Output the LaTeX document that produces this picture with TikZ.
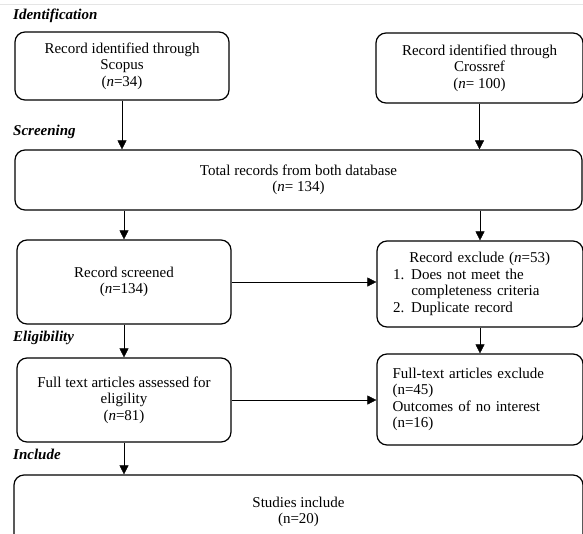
\documentclass[tikz,border=0pt]{standalone}
\usepackage{fontspec}
\setmainfont{Liberation Serif}
\usetikzlibrary{positioning, arrows.meta}

\tikzset{
  box/.style={draw, line width=1.2pt, rounded corners=10pt, align=center,
    inner sep=0pt, font=\fontsize{15}{16.5}\selectfont},
  stage/.style={anchor=base west, inner sep=0pt,
    font=\fontsize{15}{16.5}\selectfont\bfseries\itshape},
}

\begin{document}
\begin{tikzpicture}[x=1pt, y=-1pt, >={Triangle[length=9pt, width=9pt]}]
    \clip (0,0) rectangle (583,533);
    \draw[gray!20] (0,4) -- (583,4);

    %stages
    \node (ident) [stage] at (13,19) {Identification};
    \node (screen) [stage] at (13,135) {Screening};
    \node (elig) [stage] at (13,341) {Eligibility};
    \node (incl) [stage] at (13,459) {Include};

    %boxes
    \node (scopus) [box, minimum width=214pt, minimum height=68pt] at (122,66)
        {Record identified through\\Scopus\\(\textit{n}=34)};
    \node (crossref) [box, minimum width=207pt, minimum height=70pt] at (479.5,68)
        {Record identified through\\Crossref\\(\textit{n}= 100)};
    \node (total) [box, minimum width=567pt, minimum height=60pt] at (298.5,180)
        {Total records from both database\\(\textit{n}= 134)};
    \node (screened) [box, minimum width=214pt, minimum height=84pt] at (124,282)
        {Record screened\\(\textit{n}=134)};
    \node (exclude) [box, minimum width=206pt, minimum height=86pt,
        text width=174pt, align=left] at (480,284)
        {\begin{tabular}{@{}l@{\hspace{7pt}}l@{}}
          & \hspace{-2pt}Record exclude (\textit{n}=53)\\
          1. & Does not meet the\\
             & completeness criteria\\
          2. & Duplicate record
        \end{tabular}};
    \node (assessed) [box, minimum width=214pt, minimum height=84pt] at (124,400)
        {Full text articles assessed for\\eligility\\(\textit{n}=81)};
    \node (fulltext) [box, minimum width=206pt, minimum height=91pt,
        text width=175pt, align=left] at (480,399.5)
        {Full-text articles exclude\\(n=45)\\Outcomes of no interest\\(n=16)};
    \node (studies) [box, minimum width=569pt, minimum height=74pt] at (298.5,512)
        {Studies include\\(n=20)};

    \draw[->] (scopus) -- (scopus |- total.north);
    \draw[->] (crossref) -- (crossref |- total.north);
    \draw[->] (total.south -| screened) -- (screened);
    \draw[->] (total.south -| exclude) -- (exclude);
    \draw[->] (screened) -- (screened -| exclude.west);
    \draw[->] (screened) -- (assessed);
    \draw[->] (exclude) -- (fulltext);
    \draw[->] (assessed) -- (assessed -| fulltext.west);
    \draw[->] (assessed.south) -- (assessed.south |- studies.north);
\end{tikzpicture}
\end{document}
